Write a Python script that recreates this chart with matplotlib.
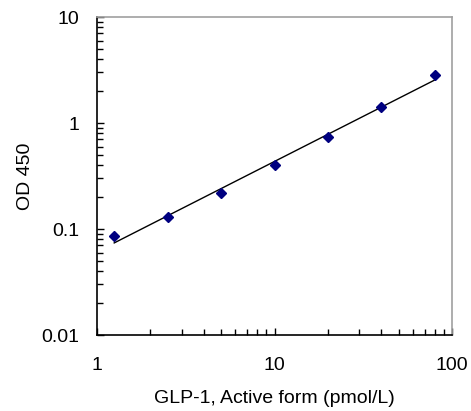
import numpy as np
import matplotlib.pyplot as plt
from matplotlib.ticker import LogLocator, FixedLocator, FixedFormatter, NullFormatter

plt.rcParams["font.family"] = ["Liberation Sans", "DejaVu Sans"]

# standard curve data
conc = [1.25, 2.5, 5, 10, 20, 40, 80]
od = [0.085, 0.131, 0.218, 0.40, 0.733, 1.43, 2.84]

x_ticks = [1, 10, 100]
x_tick_labels = ["1", "10", "100"]
y_ticks = [0.01, 0.1, 1, 10]
y_tick_labels = ["0.01", "0.1", "1", "10"]

# power fit in log-log space
slope, icpt = np.polyfit(np.log10(conc), np.log10(od), 1)
xf = np.logspace(np.log10(conc[0]), np.log10(conc[-1]), 100)
yf = 10 ** (icpt + slope * np.log10(xf))

fig = plt.figure(figsize=(4.71, 4.11), dpi=100)
ax = fig.add_axes([97 / 471, 1 - 335 / 411, (452 - 97) / 471, (335 - 17) / 411])

ax.plot(xf, yf, color="black", linewidth=1.0)
ax.plot(conc, od, linestyle="none", marker="D", markersize=5.5, color="#000080")

ax.set_xscale("log")
ax.set_yscale("log")
ax.set_xlim(1, 100)
ax.set_ylim(0.01, 10)

ax.xaxis.set_major_locator(FixedLocator(x_ticks))
ax.xaxis.set_major_formatter(FixedFormatter(x_tick_labels))
ax.yaxis.set_major_locator(FixedLocator(y_ticks))
ax.yaxis.set_major_formatter(FixedFormatter(y_tick_labels))
ax.xaxis.set_minor_locator(LogLocator(base=10, subs=np.arange(2, 10)))
ax.yaxis.set_minor_locator(LogLocator(base=10, subs=np.arange(2, 10)))
ax.xaxis.set_minor_formatter(NullFormatter())
ax.yaxis.set_minor_formatter(NullFormatter())

ax.tick_params(which="both", direction="in", top=False, right=False,
               colors="black", labelsize=14, width=1)
ax.tick_params(which="major", length=5)
ax.tick_params(which="minor", length=4)
ax.tick_params(axis="y", pad=13)
ax.tick_params(axis="x", pad=16)

for side in ["top", "right"]:
    ax.spines[side].set_color("#a0a0a0")
    ax.spines[side].set_linewidth(1.2)
for side in ["left", "bottom"]:
    ax.spines[side].set_color("black")
    ax.spines[side].set_linewidth(1.2)

ax.set_xlabel("GLP-1, Active form (pmol/L)", fontsize=14, labelpad=11)
ax.set_ylabel("OD 450", fontsize=14, labelpad=5)

fig.savefig("out.png", dpi=100)
